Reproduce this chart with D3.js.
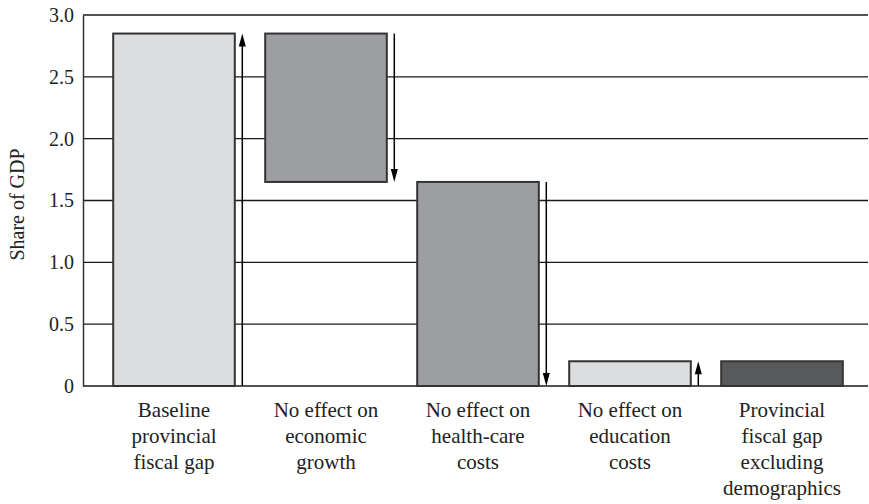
<!DOCTYPE html>
<html>
<head>
<meta charset="utf-8">
<script src="https://cdn.jsdelivr.net/npm/d3@7"></script>
<style>
  body { margin: 0; background: #fff; }
  text { font-family: "Liberation Serif", "DejaVu Serif", serif; fill: #222; }
</style>
</head>
<body>
<div id="chart"></div>
<script>
// Waterfall: decomposition of the provincial fiscal gap
const categories = [
    ['Baseline', 'provincial', 'fiscal gap'],
    ['No effect on', 'economic', 'growth'],
    ['No effect on', 'health-care', 'costs'],
    ['No effect on', 'education', 'costs'],
    ['Provincial', 'fiscal gap', 'excluding', 'demographics']
];
// start / end of each floating bar (share of GDP)
const barStart = [0, 2.85, 1.65, 0, 0];
const barEnd = [2.85, 1.65, 0, 0.2, 0.2];
const barFill = ['#dcdddf', '#9d9ea1', '#9d9ea1', '#dcdddf', '#58595b'];
// arrows drawn beside bars (null = none)
const arrowFrom = [0, 2.85, 1.65, 0, null];
const arrowTo = [2.85, 1.65, 0, 0.2, null];
const yTicks = [0, 0.5, 1.0, 1.5, 2.0, 2.5, 3.0];

const width = 869;
const height = 504;
const margin = { top: 15, right: 1, bottom: 118, left: 83 };

const svg = d3.select('#chart')
    .append('svg')
    .attr('width', width)
    .attr('height', height);

const x = d3.scaleBand()
    .domain(d3.range(categories.length))
    .range([98, 858])
    .paddingInner(0.2)
    .paddingOuter(0.1);

const y = d3.scaleLinear()
    .domain([0, 3])
    .range([height - margin.bottom, margin.top]);

// grid lines
svg.selectAll('.grid')
    .data(yTicks)
    .enter()
    .append('line')
    .attr('x1', margin.left)
    .attr('x2', width - margin.right)
    .attr('y1', d => y(d))
    .attr('y2', d => y(d))
    .attr('stroke', '#1a1a1a')
    .attr('stroke-width', 1.3);

// y axis
const yAxis = svg.append('g')
    .attr('transform', `translate(${margin.left},0)`)
    .call(d3.axisLeft(y)
        .tickValues(yTicks)
        .tickSize(0)
        .tickPadding(9)
        .tickFormat(d => d === 0 ? '0' : d3.format('.1f')(d)));
yAxis.select('.domain').attr('stroke', '#333').attr('stroke-width', 1.5);
yAxis.selectAll('text')
    .style('font-size', '20px')
    .style('font-family', '"Liberation Serif", serif')
    .attr('fill', '#222');

svg.append('text')
    .attr('transform', `translate(24, ${y(1.5) + 4}) rotate(-90)`)
    .attr('text-anchor', 'middle')
    .style('font-size', '20px')
    .text('Share of GDP');

// bars
svg.selectAll('.bar')
    .data(barStart)
    .enter()
    .append('rect')
    .attr('x', (d, i) => x(i))
    .attr('width', x.bandwidth())
    .attr('y', (d, i) => y(Math.max(d, barEnd[i])))
    .attr('height', (d, i) => Math.abs(y(d) - y(barEnd[i])))
    .attr('fill', (d, i) => barFill[i])
    .attr('stroke', '#333')
    .attr('stroke-width', 2);

// arrows
const arrows = svg.append('g');
arrowFrom.forEach((from, i) => {
    if (from === null) return;
    const to = arrowTo[i];
    const ax = x(i) + x.bandwidth() + 7.5;
    const dir = to > from ? 1 : -1; // 1 = up
    const tipY = y(to);
    const headLen = 13;
    const headHalf = 3.5;
    arrows.append('line')
        .attr('x1', ax).attr('x2', ax)
        .attr('y1', y(from))
        .attr('y2', tipY + dir * headLen * 0.8)
        .attr('stroke', '#000')
        .attr('stroke-width', 1.5);
    arrows.append('path')
        .attr('d', `M${ax},${tipY} L${ax - headHalf},${tipY + dir * headLen} L${ax + headHalf},${tipY + dir * headLen} Z`)
        .attr('fill', '#000');
});

// category labels
const labels = svg.selectAll('.cat')
    .data(categories)
    .enter()
    .append('text')
    .attr('text-anchor', 'middle')
    .attr('x', (d, i) => x(i) + x.bandwidth() / 2)
    .attr('y', 417)
    .style('font-size', '21px');

labels.selectAll('tspan')
    .data(d => d)
    .enter()
    .append('tspan')
    .attr('x', function () { return d3.select(this.parentNode).attr('x'); })
    .attr('dy', (d, i) => i === 0 ? 0 : 26)
    .text(d => d);
</script>
</body>
</html>
